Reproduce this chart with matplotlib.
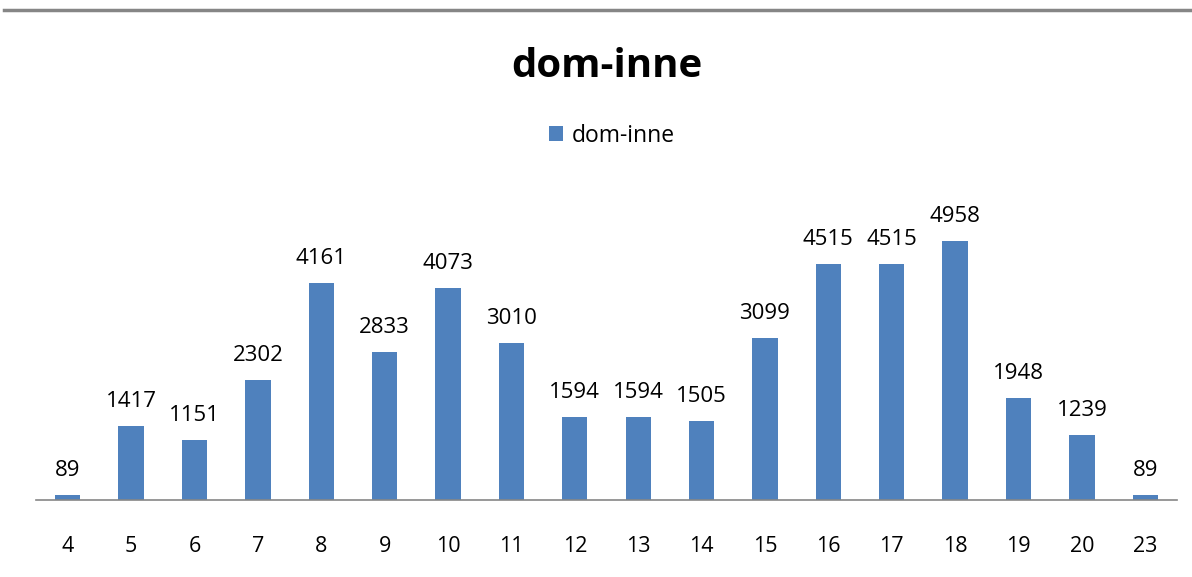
import matplotlib
matplotlib.use("Agg")
import matplotlib.pyplot as plt
from matplotlib.lines import Line2D
from matplotlib.patches import Rectangle

categories = ["4", "5", "6", "7", "8", "9", "10", "11", "12", "13", "14", "15", "16", "17", "18", "19", "20", "23"]
values = [89, 1417, 1151, 2302, 4161, 2833, 4073, 3010, 1594, 1594, 1505, 3099, 4515, 4515, 4958, 1948, 1239, 89]
series_name = "dom-inne"
title = "dom-inne"

W, H = 1192, 577
fig = plt.figure(figsize=(W / 100, H / 100), dpi=100)
plt.rcParams['font.family'] = ['Open Sans', 'DejaVu Sans']
PX = 72 / 100  # points per pixel

# axes positioned in pixel terms
left, right = 36, 1177
base_y, top_y = 500, 187
ax = fig.add_axes([left / W, (H - base_y) / H, (right - left) / W, (base_y - top_y) / H])
color = "#4F81BD"
x = list(range(len(categories)))
ax.bar(x, values, width=0.4, color=color)
ax.set_xlim(-0.5, len(categories) - 0.5)
ax.set_ylim(0, 6000)
for s in ["top", "right", "left"]:
    ax.spines[s].set_visible(False)
ax.spines["bottom"].set_color("#868686")
ax.spines["bottom"].set_linewidth(1.2)
ax.set_yticks([])
ax.set_xticks(x)
ax.set_xticklabels(categories, fontsize=15.5)
ax.tick_params(axis="x", length=0, pad=52 * PX, colors="black")
plt.setp(ax.get_xticklabels(), va="baseline")

for xi, v in zip(x, values):
    ax.annotate(str(v), (xi, v), xytext=(0, 19 * PX), textcoords="offset points",
                ha="center", va="baseline", fontsize=16)

fig.text(607 / W, (H - 77) / H, title, ha="center", va="baseline", fontsize=29, fontweight="bold")

# legend
fig.patches.append(Rectangle((549 / W, (H - 141) / H), 14 / W, 15 / H, transform=fig.transFigure,
                             facecolor=color, edgecolor="none"))
fig.text(572 / W, (H - 142) / H, series_name, ha="left", va="baseline", fontsize=16.5)

# top border line
fig.lines.append(Line2D([4 / W, 1.0], [(H - 10) / H, (H - 10) / H], transform=fig.transFigure,
                        color="#868686", linewidth=2.5))

fig.savefig("out.png", dpi=100)
